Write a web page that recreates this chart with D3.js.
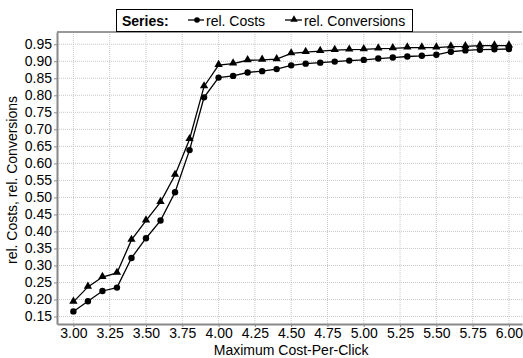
<!DOCTYPE html>
<html>
<head>
<meta charset="utf-8">
<script src="https://d3js.org/d3.v7.min.js"></script>
<style>
  body { margin: 0; background: #fff; }
  text { font-family: "Liberation Sans", Arial, sans-serif; }
</style>
</head>
<body>
<script>
// data
const cpc = [3.0, 3.1, 3.2, 3.3, 3.4, 3.5, 3.6, 3.7, 3.8, 3.9, 4.0, 4.1, 4.2, 4.3, 4.4, 4.5,
             4.6, 4.7, 4.8, 4.9, 5.0, 5.1, 5.2, 5.3, 5.4, 5.5, 5.6, 5.7, 5.8, 5.9, 6.0];
const relCosts = [0.165, 0.195, 0.225, 0.235, 0.322, 0.380, 0.432, 0.515, 0.639, 0.794, 0.852,
                  0.857, 0.867, 0.871, 0.877, 0.888, 0.893, 0.896, 0.899, 0.902, 0.904, 0.908,
                  0.911, 0.914, 0.916, 0.919, 0.928, 0.932, 0.934, 0.935, 0.936];
const relConv = [0.193, 0.237, 0.266, 0.278, 0.375, 0.432, 0.486, 0.566, 0.671, 0.826, 0.889,
                 0.893, 0.903, 0.904, 0.906, 0.923, 0.927, 0.930, 0.933, 0.934, 0.935, 0.937,
                 0.938, 0.940, 0.940, 0.940, 0.943, 0.944, 0.946, 0.946, 0.946];
const xTicks = d3.range(3, 6.001, 0.25);
const yTicks = d3.range(0.15, 0.951, 0.05);
const seriesNames = ['rel. Costs', 'rel. Conversions'];

const width = 523, height = 358;
const pL = 57, pR = 522, pT = 32, pB = 324;
const fs = '14px';

const svg = d3.select('body').append('svg')
  .attr('width', width)
  .attr('height', height);

const x = d3.scaleLinear().domain([2.887, 6.09]).range([pL, pR]);
const y = d3.scaleLinear().domain([0.128, 0.986]).range([pB, pT]);

// grid
svg.append('g').selectAll('line').data(xTicks).join('line')
  .attr('x1', d => x(d)).attr('x2', d => x(d))
  .attr('y1', pT).attr('y2', pB)
  .attr('stroke', '#c8c8c8').attr('stroke-dasharray', '1,1');
svg.append('g').selectAll('line').data(yTicks).join('line')
  .attr('x1', pL).attr('x2', pR)
  .attr('y1', d => y(d)).attr('y2', d => y(d))
  .attr('stroke', '#c8c8c8').attr('stroke-dasharray', '1,1');

// frame
svg.append('line').attr('x1', pL).attr('x2', pR).attr('y1', pT).attr('y2', pT)
  .attr('stroke', '#999').attr('stroke-width', 2);

// axes
const xAxis = svg.append('g')
  .attr('transform', `translate(0,${pB})`)
  .call(d3.axisBottom(x).tickValues(xTicks).tickFormat(d3.format('.2f')).tickSize(3).tickSizeOuter(0));
const yAxis = svg.append('g')
  .attr('transform', `translate(${pL},0)`)
  .call(d3.axisLeft(y).tickValues(yTicks).tickFormat(d3.format('.2f')).tickSize(3).tickSizeOuter(0));

[xAxis, yAxis].forEach(a => {
  a.select('.domain').attr('stroke', '#888').attr('stroke-width', 2);
  a.selectAll('.tick line').attr('stroke', '#888');
  a.selectAll('.tick text').attr('fill', '#000')
    .style('font-family', '"Liberation Sans", Arial, sans-serif').style('font-size', fs);
});
xAxis.selectAll('.tick text').attr('y', 14).attr('dy', 0);
yAxis.selectAll('.tick text').attr('x', -5);

// axis titles
svg.append('text')
  .attr('x', (x(3) + x(6)) / 2).attr('y', 355)
  .attr('text-anchor', 'middle').style('font-size', fs)
  .text('Maximum Cost-Per-Click');
svg.append('text')
  .attr('transform', `translate(17,${(pT + pB) / 2 + 2}) rotate(-90)`)
  .attr('text-anchor', 'middle').style('font-size', fs)
  .text('rel. Costs, rel. Conversions');

// series
const line = d3.line().x((d, i) => x(cpc[i])).y(d => y(d));
const tri = d3.symbol().type(d3.symbolTriangle).size(30);

svg.append('path').datum(relCosts).attr('d', line)
  .attr('fill', 'none').attr('stroke', '#000').attr('stroke-width', 1.3);
svg.append('path').datum(relConv).attr('d', line)
  .attr('fill', 'none').attr('stroke', '#000').attr('stroke-width', 1.3);

svg.append('g').selectAll('circle').data(relCosts).join('circle')
  .attr('cx', (d, i) => x(cpc[i])).attr('cy', d => y(d)).attr('r', 3.2).attr('fill', '#000');
svg.append('g').selectAll('path').data(relConv).join('path')
  .attr('d', tri)
  .attr('transform', (d, i) => `translate(${x(cpc[i])},${y(d) - 0.5})`)
  .attr('fill', '#000');

// legend
const lg = svg.append('g');
lg.append('rect').attr('x', 116.5).attr('y', 9.5).attr('width', 296).attr('height', 22)
  .attr('fill', '#fff').attr('stroke', '#000').attr('stroke-width', 1);
lg.append('text').attr('x', 122).attr('y', 25.5).style('font-size', fs).style('font-weight', 'bold')
  .text('Series:');
lg.append('line').attr('x1', 188).attr('x2', 204).attr('y1', 20).attr('y2', 20)
  .attr('stroke', '#000').attr('stroke-width', 1.3);
lg.append('circle').attr('cx', 197).attr('cy', 20).attr('r', 2.8).attr('fill', '#000');
lg.append('text').attr('x', 206).attr('y', 25.5).style('font-size', fs).text(seriesNames[0]);
lg.append('line').attr('x1', 285).attr('x2', 302).attr('y1', 20).attr('y2', 20)
  .attr('stroke', '#000').attr('stroke-width', 1.3);
lg.append('path').attr('d', d3.symbol().type(d3.symbolTriangle).size(24))
  .attr('transform', 'translate(294,19.5)').attr('fill', '#000');
lg.append('text').attr('x', 304).attr('y', 25.5).style('font-size', fs).text(seriesNames[1]);
</script>
</body>
</html>
